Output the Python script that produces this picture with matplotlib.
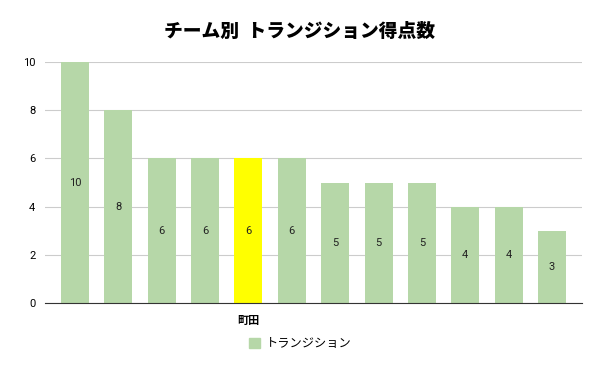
import matplotlib.pyplot as plt
import numpy as np
from matplotlib.patches import Patch

plt.rcParams['font.family'] = ['Noto Sans CJK JP', 'DejaVu Sans']

# data
teams = ["", "", "", "", "町田", "", "", "", "", "", "", ""]
points = [10, 8, 6, 6, 6, 6, 5, 5, 5, 4, 4, 3]
series_name = "トランジション"
highlight = "町田"

green = "#b6d7a8"
yellow = "#ffff00"

fig = plt.figure(figsize=(6, 3.71), dpi=100)
ax = fig.add_axes([0.075, 0.183, 0.895, 0.65])

x = np.arange(len(points))
colors = [yellow if t == highlight else green for t in teams]
ax.bar(x, points, width=0.645, color=colors, zorder=3, label=series_name)

# value labels in the middle of each bar
for xi, v in zip(x, points):
    ax.text(xi, v / 2, str(v), ha="center", va="center", fontsize=8, color="#222222",
            family="Roboto", zorder=4)

ax.set_xlim(-0.69, len(points) - 0.31)
ax.set_ylim(0, 10)
ax.set_yticks([0, 2, 4, 6, 8, 10])
ax.set_xticks(x)
ax.set_xticklabels(teams, fontsize=8, fontweight="bold")
for lbl in ax.get_yticklabels():
    lbl.set_family("Roboto")
ax.tick_params(axis="both", length=0, labelsize=8)
ax.tick_params(axis="x", pad=8)
ax.tick_params(axis="y", pad=7)
ax.grid(axis="y", color="#cccccc", linewidth=0.8, zorder=0)
for s in ["top", "right", "left"]:
    ax.spines[s].set_visible(False)
ax.spines["bottom"].set_color("#333333")
ax.spines["bottom"].set_zorder(5)

fig.text(0.5, 0.915, "チーム別  トランジション得点数", ha="center", va="center",
         fontsize=13.5, fontweight="black")

fig.legend(handles=[Patch(color=green, label=series_name)], loc="center",
           bbox_to_anchor=(0.5, 0.073), frameon=False, fontsize=8.8,
           handlelength=0.9, handleheight=0.9, handletextpad=0.5)

fig.savefig("out.png", dpi=100)
